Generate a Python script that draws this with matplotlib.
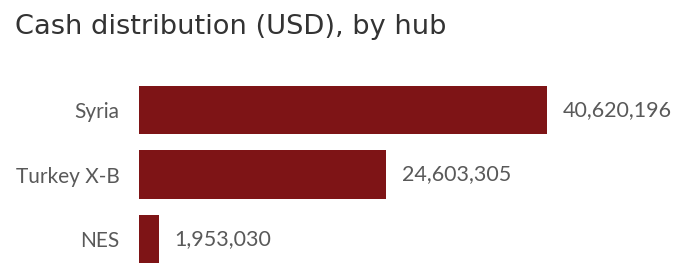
import matplotlib.pyplot as plt

hubs = ["Syria", "Turkey X-B", "NES"]
cash_usd = [40620196, 24603305, 1953030]

bar_color = "#7E1416"
text_color = "#595959"

fig = plt.figure(figsize=(6.79, 2.71), dpi=100)
ax = fig.add_axes([139 / 679, 0, 540 / 679, 193.25 / 271])

y = range(len(hubs))
ax.barh(y, cash_usd, height=0.755, color=bar_color)
ax.set_xlim(0, 53.8e6)
ax.set_ylim(2.496, -0.5)

for yi, v in zip(y, cash_usd):
    ax.annotate(f"{v:,}", (v, yi), xytext=(11.5, 0), textcoords="offset points",
                va="center", ha="left", fontsize=15.5, color=text_color,
                family="Lato")

ax.set_yticks(list(y))
ax.set_yticklabels(hubs, fontsize=15, color=text_color, family="Lato")
ax.tick_params(axis="y", length=0, pad=14)
ax.set_xticks([])
for s in ax.spines.values():
    s.set_visible(False)

fig.text(15 / 679, 1 - 34.5 / 271, "Cash distribution (USD), by hub", fontsize=19.6,
         color="#333333", family="DejaVu Sans", ha="left", va="baseline")

fig.savefig("out.png", dpi=100)
